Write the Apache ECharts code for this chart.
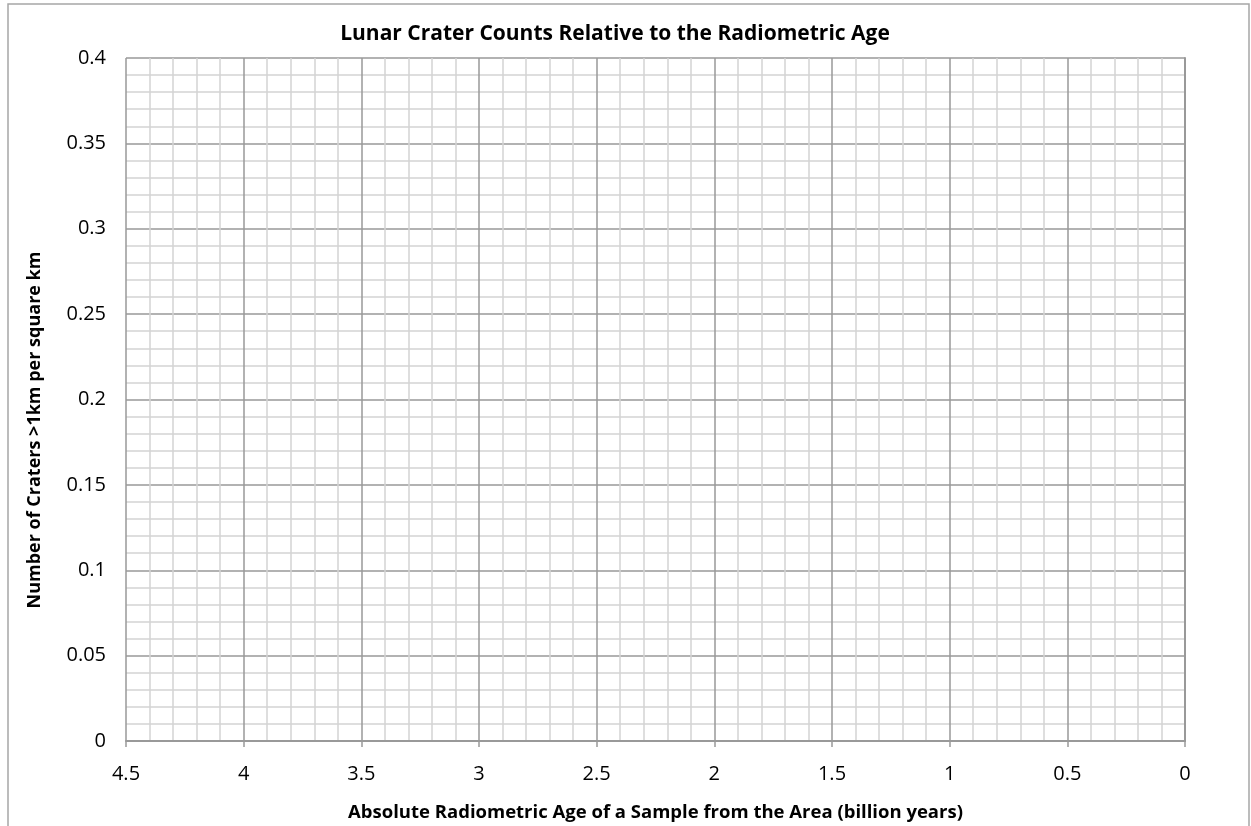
<!DOCTYPE html>
<html>
<head>
    <title>Lunar Crater Counts</title>
    <script src="https://cdn.jsdelivr.net/npm/echarts@6/dist/echarts.min.js"></script>
    <style>
        body { margin: 0; background: #fff; }
        #chart { width: 1251px; height: 826px; }
    </style>
</head>
<body>
    <div id="chart"></div>
    <script>
        // Axis ranges (x runs backwards, 4.5 -> 0)
        const xRange = [0, 4.5];
        const xStep = 0.5;
        const yRange = [0, 0.4];
        const yStep = 0.05;
        // Plotted samples: [age (billion years), craters >1km per km^2]
        const craterCounts = [];

        const font = "'Open Sans', 'Noto Sans', sans-serif";
        const chart = echarts.init(document.getElementById('chart'));

        chart.setOption({
            backgroundColor: '#fff',
            animation: false,
            title: {
                text: 'Lunar Crater Counts Relative to the Radiometric Age',
                left: 610, top: 10, textAlign: 'center',
                textStyle: { fontFamily: font, fontSize: 21, fontWeight: 'bold', color: '#000' }
            },
            graphic: [{
                type: 'rect',
                shape: { x: 8, y: 4, width: 1241, height: 830 },
                style: { fill: 'none', stroke: '#a6a6a6', lineWidth: 1.5 },
                silent: true
            }, {
                // y axis title, placed like the original (a bit below centre)
                type: 'text',
                x: 35, y: 430,
                rotation: Math.PI / 2,
                style: {
                    text: 'Number of Craters >1km per square km',
                    fontFamily: font, fontSize: 18, fontWeight: 'bold', fill: '#000',
                    align: 'center', verticalAlign: 'middle'
                },
                silent: true
            }],
            grid: { left: 126, right: 66, top: 58, bottom: 85, containLabel: false, outerBoundsMode: 'none' },
            xAxis: {
                type: 'value',
                inverse: true,
                min: xRange[0], max: xRange[1], interval: xStep,
                name: 'Absolute Radiometric Age of a Sample from the Area (billion years)',
                nameLocation: 'middle', nameGap: 48,
                nameTextStyle: { fontFamily: font, fontSize: 18.5, fontWeight: 'bold', color: '#000' },
                axisLine: { lineStyle: { color: '#999', width: 2 } },
                axisTick: { show: true, length: 6, lineStyle: { color: '#999', width: 1.5 } },
                axisLabel: { fontFamily: font, fontSize: 20, color: '#000', margin: 17 },
                splitLine: { lineStyle: { color: '#999', width: 1.5 } },
                minorTick: { show: false, splitNumber: 5 },
                minorSplitLine: { show: true, lineStyle: { color: '#d4d4d4', width: 1.5 } }
            },
            yAxis: {
                type: 'value',
                min: yRange[0], max: yRange[1], interval: yStep,
                axisLine: { show: true, lineStyle: { color: '#999', width: 2 } },
                axisTick: { show: false },
                axisLabel: { fontFamily: font, fontSize: 20, color: '#000', margin: 20, padding: [6, 0, 0, 0] },
                splitLine: { lineStyle: { color: '#999', width: 1.5 } },
                minorTick: { show: false, splitNumber: 5 },
                minorSplitLine: { show: true, lineStyle: { color: '#d4d4d4', width: 1.5 } }
            },
            series: [{
                type: 'scatter',
                data: craterCounts,
                symbolSize: 6,
                itemStyle: { color: '#4f81bd' }
            }]
        });
    </script>
</body>
</html>
